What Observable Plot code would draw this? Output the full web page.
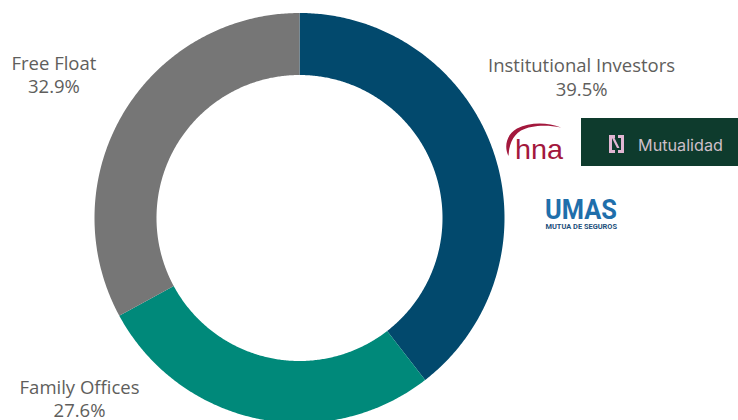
<!DOCTYPE html>
<html>
<head>
<meta charset="utf-8">
<script src="https://cdn.jsdelivr.net/npm/d3@7"></script>
<script src="https://cdn.jsdelivr.net/npm/@observablehq/plot@0.6"></script>
<style>
  html, body { margin: 0; padding: 0; background: #fff; overflow: hidden; }
  #wrap { position: relative; width: 738px; height: 420px; overflow: hidden; }
  #logos { position: absolute; left: 0; top: 0; pointer-events: none; }
</style>
</head>
<body>
<div id="wrap">
  <div id="chart"></div>
  <svg id="logos" width="738" height="420" viewBox="0 0 738 420">
    <!-- hna -->
    <path d="M508.5 156 C 503.5 146, 507 134, 517 128.5 C 530 122, 547 122, 561 127.5 C 547 124.5, 531 125, 521 130.5 C 512 136, 509 146, 508.5 156 Z" fill="#a3183d"/>
    <text x="515" y="158.5" font-family="Liberation Sans, Arial, sans-serif" font-size="27.5" fill="#a3183d" textLength="48" lengthAdjust="spacingAndGlyphs">hna</text>
    <!-- Mutualidad -->
    <rect x="581" y="118" width="157" height="48" fill="#0e3b2d"/>
    <path d="M609 135 h6 v3 h-3 v12 h3 v3 h-6 Z M612 138 l2.5 0 l5 10 l-2.5 0 Z M624 153 h-6 v-3 h3 v-12 h-3 v-3 h6 Z" fill="#e2b6d3"/>
    <text x="638" y="150.5" font-family="Inter, Roboto, sans-serif" font-size="15.5" fill="#cdbfc8" textLength="85" lengthAdjust="spacingAndGlyphs">Mutualidad</text>
    <!-- UMAS -->
    <text x="545" y="218.5" font-family="Roboto, Liberation Sans, sans-serif" font-weight="bold" font-size="27" fill="#1f6fab" textLength="72" lengthAdjust="spacingAndGlyphs">UMAS</text>
    <text x="545.5" y="229" font-family="Roboto, Liberation Sans, sans-serif" font-weight="bold" font-size="6.8" fill="#1d4f7b" textLength="71.5" lengthAdjust="spacingAndGlyphs">MUTUA DE SEGUROS</text>
  </svg>
</div>
<script>
// ---- data ----
const categories = ["Institutional Investors", "Family Offices", "Free Float"];
const shares = [39.5, 27.6, 32.9];
const sliceColors = ["#02496d", "#00897a", "#767676"];

// ---- geometry built from data ----
const total = d3.sum(shares);
const innerRatio = 143 / 205;
const polys = [];
let acc = 0;
categories.forEach((name, i) => {
  const a0 = acc / total * 2 * Math.PI;
  acc += shares[i];
  const a1 = acc / total * 2 * Math.PI;
  const n = Math.max(2, Math.ceil((a1 - a0) / (Math.PI / 360)));
  for (let k = 0; k <= n; k++) {
    const a = a0 + (a1 - a0) * k / n;
    polys.push({name, x: Math.sin(a), y: Math.cos(a)});
  }
  for (let k = n; k >= 0; k--) {
    const a = a0 + (a1 - a0) * k / n;
    polys.push({name, x: innerRatio * Math.sin(a), y: innerRatio * Math.cos(a)});
  }
});

// label anchors (in chart units)
const labelPos = [[1.376, 0.69], [-1.073, -0.88], [-1.198, 0.70]];
const labels = categories.map((name, i) => ({
  name,
  text: `${name}\n${shares[i].toFixed(1)}%`,
  x: labelPos[i][0],
  y: labelPos[i][1]
}));

const chart = Plot.plot({
  width: 738,
  height: 420,
  margin: 0,
  style: {fontFamily: "'Open Sans', sans-serif", background: "transparent"},
  x: {domain: [-1, 1], range: [94, 504], axis: null},
  y: {domain: [-1, 1], range: [422.5, 12.5], axis: null},
  color: {domain: categories, range: sliceColors},
  marks: [
    Plot.line(polys, {x: "x", y: "y", z: "name", fill: "name", stroke: "none", curve: "linear-closed"}),
    Plot.text(labels, {x: "x", y: "y", text: "text", fill: "#605e5c", fontSize: 18.5, lineHeight: 1.25, textAnchor: "middle", lineAnchor: "middle"})
  ]
});
document.getElementById("chart").appendChild(chart);
</script>
</body>
</html>
